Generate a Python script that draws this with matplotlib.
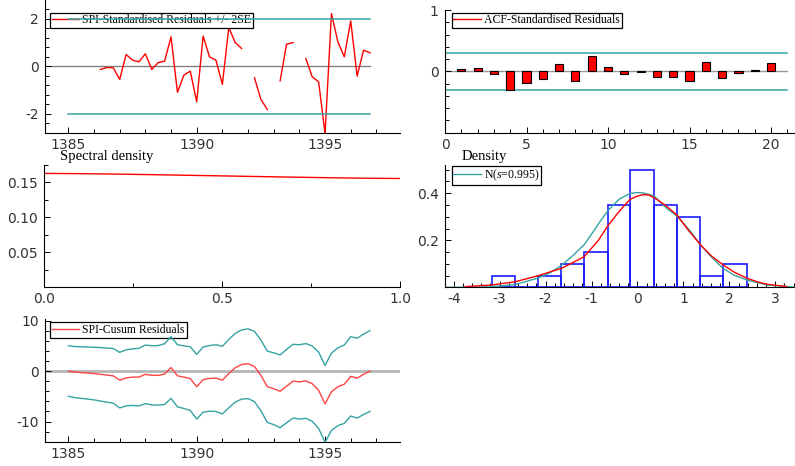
import matplotlib
matplotlib.use("Agg")
import matplotlib.pyplot as plt
import numpy as np
from matplotlib.ticker import MultipleLocator

plt.rcParams['mathtext.fontset'] = 'custom'
plt.rcParams['mathtext.rm'] = 'Liberation Serif'
plt.rcParams['mathtext.it'] = 'Liberation Serif:italic'
plt.rcParams['axes.unicode_minus'] = False

W, H = 795, 466
TEAL = '#35a3a3'

# quarterly sample 1385(1) .. 1396(4)
time = 1385 + 0.25 * np.arange(48)
nan = np.nan
std_resid = [nan, nan, nan, nan, nan,
             -0.14, -0.06, -0.07, -0.56, 0.49, 0.25, 0.18, 0.52, -0.14, 0.15, 0.21,
             1.23, -1.10, -0.38, -0.21, -1.50, 1.26, 0.39, 0.25, -0.77, 1.62, 0.99, 0.74,
             nan, -0.49, -1.40, -1.82,
             nan, -0.62, 0.92, 0.99,
             nan, 0.32, -0.45, -0.66, -2.85, 2.21, 1.02, 0.39, 1.90, -0.42, 0.67, 0.56]
two_se = 2.0

acf_lags = np.arange(1, 21)
acf_vals = [0.044, 0.06, -0.05, -0.30, -0.19, -0.13, 0.126, -0.15, 0.25, 0.077,
            -0.04, -0.005, -0.10, -0.10, -0.16, 0.16, -0.115, -0.02, 0.015, 0.14]
acf_band = 0.3015

spec_freq = [0.0, 0.1, 0.2, 0.3, 0.4, 0.5, 0.6, 0.7, 0.8, 0.9, 1.0]
spec_dens = [0.1630, 0.1626, 0.1620, 0.1612, 0.1603, 0.1594, 0.1585, 0.1576, 0.1568, 0.1561, 0.1557]

hist_edges = [-3.17, -2.67, -2.17, -1.66, -1.16, -0.65, -0.16, 0.35, 0.86, 1.37, 1.87, 2.38]
hist_dens = [0.05, 0.0, 0.05, 0.10, 0.15, 0.35, 0.50, 0.35, 0.30, 0.05, 0.10]

kde_x = [-3.75, -3.17, -2.67, -2.17, -1.65, -1.16, -0.85, -0.65, -0.45, -0.30, -0.16, 0.0,
         0.13, 0.25, 0.36, 0.60, 0.86, 1.10, 1.37, 1.60, 1.86, 2.10, 2.38, 2.60, 2.82, 3.25]
kde_y = [0.003, 0.010, 0.023, 0.049, 0.081, 0.130, 0.200, 0.260, 0.310, 0.345, 0.374, 0.388,
         0.394, 0.392, 0.381, 0.350, 0.307, 0.245, 0.181, 0.135, 0.096, 0.065, 0.039, 0.024, 0.013, 0.003]

norm_x = [-4.19, -3.60, -3.17, -2.67, -2.17, -1.90, -1.65, -1.40, -1.16, -0.95, -0.81, -0.65,
          -0.50, -0.38, -0.16, 0.0, 0.13, 0.36, 0.64, 0.86, 1.15, 1.37, 1.60, 1.86, 2.10,
          2.38, 2.82, 3.25, 3.45]
norm_y = [0.0, 0.001, 0.003, 0.011, 0.039, 0.062, 0.094, 0.136, 0.181, 0.240, 0.281, 0.324,
          0.355, 0.377, 0.399, 0.403, 0.401, 0.389, 0.335, 0.303, 0.239, 0.181, 0.131, 0.081,
          0.052, 0.031, 0.010, 0.003, 0.001]

cusum = [0.0, -0.2, -0.3, -0.4, -0.5, -0.65, -0.8, -0.95,
         -1.8, -1.35, -1.2, -1.2, -0.65, -0.85, -0.85, -0.6,
         0.7, -0.95, -1.2, -1.5, -3.1, -1.7, -1.45, -1.4,
         -1.8, -0.5, 0.65, 1.3, 1.45, 0.9, -0.85, -3.1,
         -3.5, -4.0, -3.0, -2.0, -2.15, -1.95, -2.5, -3.8,
         -6.5, -4.1, -3.1, -2.6, -1.05, -1.4, -0.65, 0.0]
cusum_band = [5.0, 5.05, 5.1, 5.15, 5.2, 5.3, 5.35, 5.4,
              5.5, 5.55, 5.6, 5.7, 5.8, 5.85, 5.9, 6.0,
              6.1, 6.15, 6.2, 6.3, 6.4, 6.45, 6.5, 6.6,
              6.7, 6.75, 6.8, 6.85, 6.9, 6.95, 7.0, 7.05,
              7.1, 7.2, 7.25, 7.3, 7.35, 7.4, 7.45, 7.55,
              7.6, 7.65, 7.7, 7.75, 7.85, 7.9, 7.95, 8.0]

fig = plt.figure(figsize=(W / 100, H / 100), dpi=100)


def add_ax(l, t, r, b):
    ax = fig.add_axes([l / W, 1 - b / H, (r - l) / W, (b - t) / H])
    for s in ['top', 'right']:
        ax.spines[s].set_visible(False)
    for s in ['left', 'bottom']:
        ax.spines[s].set_linewidth(0.8)
    ax.tick_params(which='both', direction='in', top=False, right=False,
                   labelsize=10, labelcolor='#333333', width=0.7)
    ax.tick_params(which='major', length=4.5)
    ax.tick_params(which='minor', length=3)
    ax.tick_params(axis='x', pad=3.5)
    ax.tick_params(axis='y', pad=4.5)
    ax.patch.set_alpha(0)
    return ax


def add_legend(ax, px, py):
    leg = ax.legend(loc='upper left', bbox_to_anchor=(px / W, 1 - py / H),
                    bbox_transform=fig.transFigure, borderaxespad=0,
                    prop={'family': 'Liberation Serif', 'size': 8.5},
                    frameon=True, fancybox=False, framealpha=1, edgecolor='black',
                    borderpad=0.15, handlelength=2.3, handletextpad=0.3)
    leg.get_frame().set_linewidth(0.9)
    leg.set_zorder(2.5)
    return leg


# residuals
ax1 = add_ax(45, 0, 400, 132.7)
ax1.plot(time, std_resid, color='red', lw=1, label='SPI-Standardised Residuals +/- 2SE')
ax1.plot([time[0] - 0.9, time[-1]], [0, 0], color='#777777', lw=0.9, zorder=1)
ax1.plot([time[0], time[-1]], [two_se, two_se], color=TEAL, lw=1.1, zorder=3)
ax1.plot([time[0], time[-1]], [-two_se, -two_se], color=TEAL, lw=1.1, zorder=3)
ax1.set_xlim(1384.09, 1397.92)
ax1.set_ylim(-2.8, 2.78)
ax1.set_xticks([1385, 1390, 1395])
ax1.xaxis.set_minor_locator(MultipleLocator(1))
ax1.set_yticks([-2, 0, 2])
ax1.yaxis.set_minor_locator(MultipleLocator(0.4))
add_legend(ax1, 50, 12.7)

# ACF
ax2 = add_ax(445, 10, 795, 132.7)
ax2.bar(acf_lags, acf_vals, width=0.5, color='red', edgecolor='black', lw=0.8, zorder=3)
ax2.plot([], [], color='red', lw=1, label='ACF-Standardised Residuals')
ax2.plot([0, 21], [0, 0], color='#999999', lw=1, zorder=1)
ax2.plot([0, 21], [acf_band, acf_band], color=TEAL, lw=1.1, zorder=2)
ax2.plot([0, 21], [-acf_band, -acf_band], color=TEAL, lw=1.1, zorder=2)
ax2.set_xlim(0, 21.47)
ax2.set_ylim(-1, 1)
ax2.set_xticks([0, 5, 10, 15, 20])
ax2.xaxis.set_minor_locator(MultipleLocator(1))
ax2.set_yticks([-1, 0, 1])
ax2.set_yticklabels(['', '0', '1'])
ax2.yaxis.set_minor_locator(MultipleLocator(0.2))
add_legend(ax2, 451.7, 12.7)

# spectral density
ax3 = add_ax(44.4, 165, 400, 287.3)
ax3.plot(spec_freq, spec_dens, color='red', lw=1)
ax3.set_xlim(0, 1)
ax3.set_ylim(0, 0.175)
ax3.set_xticks([0, 0.5, 1.0])
ax3.set_xticklabels(['0.0', '0.5', '1.0'])
ax3.xaxis.set_minor_locator(MultipleLocator(0.25))
ax3.set_yticks([0.05, 0.10, 0.15])
ax3.set_yticklabels(['0.05', '0.10', '0.15'])
ax3.yaxis.set_minor_locator(MultipleLocator(0.025))
fig.text(60 / W, 1 - 156.7 / H, 'Spectral density', family='Liberation Serif',
         fontsize=10.5, va='center', ha='left')

# density
ax4 = add_ax(445, 165, 795, 287.3)
lefts = hist_edges[:-1]
widths = np.diff(hist_edges)
ax4.bar(lefts, hist_dens, width=widths, align='edge', facecolor='none',
        edgecolor='#1a1aff', lw=1.2, zorder=2)
ax4.plot(norm_x, norm_y, color=TEAL, lw=1, label='N($s$=0.995)', zorder=3)
ax4.plot(kde_x, kde_y, color='red', lw=1, zorder=3)
ax4.set_xlim(-4.19, 3.43)
ax4.set_ylim(0, 0.52)
ax4.set_xticks([-4, -3, -2, -1, 0, 1, 2, 3])
ax4.xaxis.set_minor_locator(MultipleLocator(0.2))
ax4.set_yticks([0.2, 0.4])
ax4.yaxis.set_minor_locator(MultipleLocator(0.05))
add_legend(ax4, 451.7, 166)
fig.text(461.7 / W, 1 - 156.7 / H, 'Density', family='Liberation Serif',
         fontsize=10.5, va='center', ha='left')

# cusum
ax5 = add_ax(45, 319, 400, 442.3)
cus = np.array(cusum)
band = np.array(cusum_band)
ax5.plot([1384.09, 1397.92], [0, 0], color='#b5b5b5', lw=2, zorder=1)
ax5.plot(time, cus, color='#ff4444', lw=1, label='SPI-Cusum Residuals', zorder=3)
ax5.plot(time, cus + band, color=TEAL, lw=1, zorder=3)
ax5.plot(time, cus - band, color=TEAL, lw=1, zorder=3)
ax5.set_xlim(1384.09, 1397.92)
ax5.set_ylim(-14.1, 10.3)
ax5.set_xticks([1385, 1390, 1395])
ax5.xaxis.set_minor_locator(MultipleLocator(1))
ax5.set_yticks([-10, 0, 10])
ax5.yaxis.set_minor_locator(MultipleLocator(2))
add_legend(ax5, 50, 322.3)

fig.savefig('out.png', dpi=100)
